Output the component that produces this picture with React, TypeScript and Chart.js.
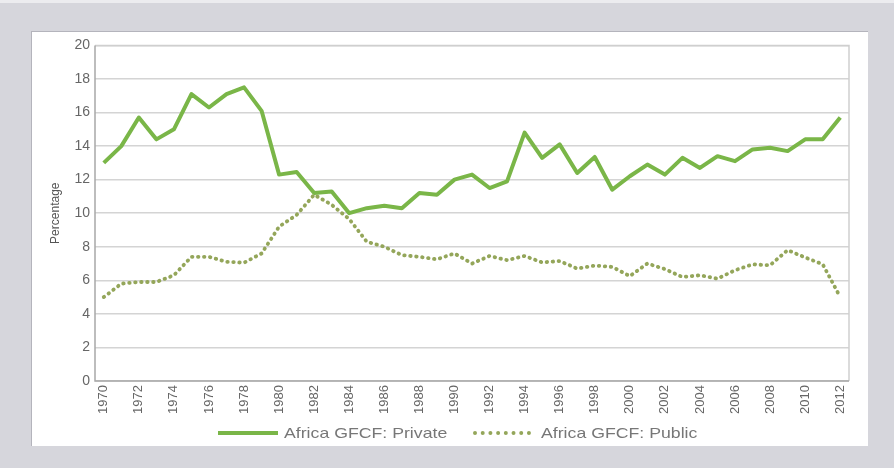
import React, { useEffect, useRef } from "react";
import { Chart, registerables } from "chart.js";

Chart.register(...registerables);

const years: string[] = [
  "1970","1971","1972","1973","1974","1975","1976","1977","1978","1979",
  "1980","1981","1982","1983","1984","1985","1986","1987","1988","1989",
  "1990","1991","1992","1993","1994","1995","1996","1997","1998","1999",
  "2000","2001","2002","2003","2004","2005","2006","2007","2008","2009",
  "2010","2011","2012",
];

const privateGFCF: number[] = [
  13.0, 14.0, 15.7, 14.4, 15.0, 17.1, 16.3, 17.1, 17.5, 16.1,
  12.3, 12.45, 11.2, 11.3, 10.0, 10.3, 10.45, 10.3, 11.2, 11.1,
  12.0, 12.3, 11.5, 11.9, 14.8, 13.3, 14.1, 12.4, 13.35, 11.4,
  12.2, 12.9, 12.3, 13.3, 12.7, 13.4, 13.1, 13.8, 13.9, 13.7,
  14.4, 14.4, 15.7,
];

const publicGFCF: number[] = [
  5.0, 5.8, 5.9, 5.9, 6.3, 7.4, 7.4, 7.1, 7.05, 7.6,
  9.2, 9.9, 11.1, 10.5, 9.65, 8.3, 8.0, 7.5, 7.4, 7.25,
  7.6, 7.0, 7.45, 7.2, 7.45, 7.07, 7.15, 6.7, 6.88, 6.8,
  6.25, 7.0, 6.67, 6.2, 6.3, 6.1, 6.6, 6.95, 6.9, 7.8,
  7.36, 6.96, 5.0,
];

const seriesLabels: string[] = ["Africa GFCF: Private", "Africa GFCF: Public"];
const yTitle = "Percentage";

const FONT = "'Liberation Sans', Arial, sans-serif";
const PRIVATE_COLOR = "#7ab648";
const PUBLIC_COLOR = "#94a65a";

const frame = {
  id: "frame",
  afterDraw(chart: any) {
    const { ctx, chartArea } = chart;
    const { left, right, top, bottom } = chartArea;
    ctx.save();
    ctx.lineWidth = 1.5;
    ctx.strokeStyle = "#cfcfcf";
    ctx.beginPath();
    ctx.moveTo(left, top);
    ctx.lineTo(right, top);
    ctx.lineTo(right, bottom);
    ctx.stroke();
    ctx.strokeStyle = "#a8a8a8";
    ctx.beginPath();
    ctx.moveTo(left, top);
    ctx.lineTo(left, bottom);
    ctx.lineTo(right, bottom);
    ctx.stroke();
    ctx.restore();
  },
};

const legendText: React.CSSProperties = {
  position: "absolute",
  top: 421,
  fontFamily: FONT,
  fontSize: 15,
  lineHeight: "18px",
  color: "#777777",
  whiteSpace: "nowrap",
  transform: "scaleX(1.18)",
  transformOrigin: "left center",
};

export default function App() {
  const ref = useRef<HTMLCanvasElement | null>(null);

  useEffect(() => {
    document.body.style.margin = "0";
    if (!ref.current) return;
    const chart = new Chart(ref.current, {
      type: "line",
      data: {
        labels: years,
        datasets: [
          {
            label: seriesLabels[0],
            data: privateGFCF,
            borderColor: PRIVATE_COLOR,
            backgroundColor: PRIVATE_COLOR,
            borderWidth: 4,
            pointRadius: 0,
            tension: 0,
            borderJoinStyle: "round",
          },
          {
            label: seriesLabels[1],
            data: publicGFCF,
            borderColor: PUBLIC_COLOR,
            backgroundColor: PUBLIC_COLOR,
            borderWidth: 3.8,
            borderDash: [0.5, 5.5],
            borderCapStyle: "round",
            pointRadius: 0,
            tension: 0,
          },
        ],
      },
      options: {
        animation: false,
        responsive: false,
        maintainAspectRatio: false,
        layout: { padding: { top: 13, right: 18, left: 14, bottom: 0 } },
        plugins: {
          tooltip: { enabled: false },
          legend: { display: false },
        },
        scales: {
          x: {
            offset: true,
            grid: { display: false },
            border: { display: false },
            afterFit(scale: any) {
              scale.height = 64;
            },
            ticks: {
              autoSkip: false,
              minRotation: 90,
              maxRotation: 90,
              padding: -4,
              color: "#666666",
              font: { family: FONT, size: 13 },
              callback: (_v: any, i: number) => (i % 2 === 0 ? years[i] : ""),
            },
          },
          y: {
            min: 0,
            max: 20,
            ticks: {
              stepSize: 2,
              padding: 5,
              color: "#666666",
              font: { family: FONT, size: 14 },
            },
            grid: { color: "#d4d4d4", lineWidth: 1.5, drawTicks: false },
            border: { display: false },
            title: {
              display: true,
              text: yTitle,
              color: "#555555",
              font: { family: FONT, size: 12 },
              padding: 2,
            },
            afterFit(scale: any) {
              scale.width = 49;
            },
          },
        },
      },
      plugins: [frame],
    });
    return () => chart.destroy();
  }, []);

  return (
    <div
      style={{
        position: "fixed",
        left: 0,
        top: 0,
        width: 894,
        height: 468,
        background: "#d6d6dc",
        borderTop: "3px solid #ececef",
        boxSizing: "border-box",
      }}
    >
      <div
        style={{
          position: "absolute",
          left: 31,
          top: 28,
          width: 836,
          height: 414,
          background: "#ffffff",
          borderLeft: "1px solid #b4b4bc",
          borderTop: "1px solid #b4b4bc",
        }}
      >
        <canvas ref={ref} width={835} height={413} style={{ display: "block" }} />
      </div>
      <div
        style={{
          position: "absolute",
          left: 218,
          top: 428,
          width: 60,
          height: 4,
          background: PRIVATE_COLOR,
        }}
      />
      <div style={{ ...legendText, left: 284 }}>{seriesLabels[0]}</div>
      <div
        style={{
          position: "absolute",
          left: 473,
          top: 428,
          width: 58,
          height: 0,
          borderTop: `4px dotted ${PUBLIC_COLOR}`,
        }}
      />
      <div style={{ ...legendText, left: 541 }}>{seriesLabels[1]}</div>
    </div>
  );
}
